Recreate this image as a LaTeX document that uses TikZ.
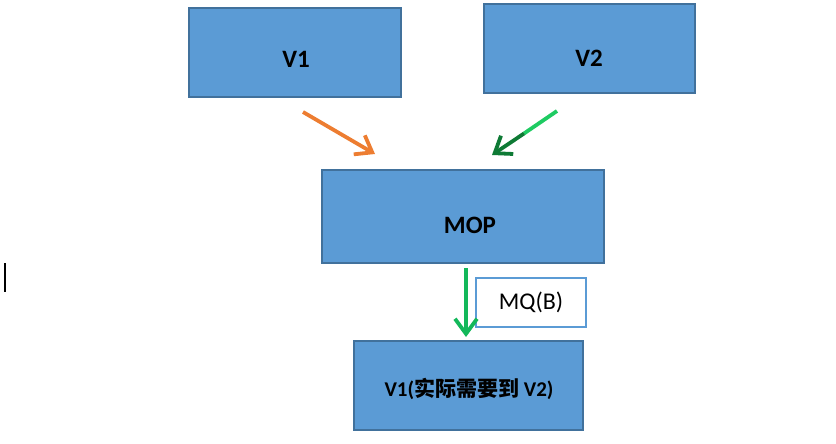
\documentclass[tikz,border=0pt]{standalone}
\usepackage{fontspec}
\setmainfont{Carlito}
\newfontfamily\cjk{Noto Sans CJK SC}
\usetikzlibrary{arrows.meta}
\definecolor{boxfill}{HTML}{5B9BD5}
\definecolor{boxline}{HTML}{41719C}
\definecolor{orangeA}{HTML}{ED7D31}
\definecolor{greenL}{HTML}{1ECB62}
\definecolor{greenD}{HTML}{0E7A35}
\definecolor{greenV}{HTML}{13B85A}
\tikzset{
  bluebox/.style={draw=boxline, line width=1.5pt, fill=boxfill, inner sep=0pt},
  boxtext/.style={inner sep=0pt, font=\bfseries\fontsize{25}{29}\selectfont},
  labelbox/.style={draw=boxfill, line width=1.5pt, fill=white, inner sep=0pt, font=\fontsize{24}{28}\selectfont},
  arr/.style={line width=3.8pt, -{Straight Barb[length=15pt,width=22pt,line width=3.8pt]}}
}
\begin{document}
\begin{tikzpicture}[x=1pt,y=-1pt]
\useasboundingbox (0,0) rectangle (836,444);
\node[bluebox, minimum width=212pt, minimum height=89pt] (v1) at (295,52.5) {};
\node[boxtext] (v1t) at (296,59) {V1};
\node[bluebox, minimum width=211pt, minimum height=89pt] (v2) at (589.5,48.5) {};
\node[boxtext] (v2t) at (589,58) {V2};
\node[bluebox, minimum width=282pt, minimum height=93pt] (mop) at (463,216.5) {};
\node[boxtext] (mopt) at (470,225) {MOP};
\node[bluebox, minimum width=229pt, minimum height=89pt] (dst) at (468.5,385.5) {};
\node[boxtext, font=\bfseries\fontsize{21}{25}\selectfont] (dstt) at (469,389) {V1({\cjk 实际需要到} V2)};
\node[labelbox, minimum width=110pt, minimum height=49pt] (mq) at (531,302.5) {MQ(B)};
\coordinate (o1) at (303,112);
\coordinate (o2) at (375,154);
\coordinate (g1) at (557,111);
\coordinate (gm) at (524,133.5);
\coordinate (g2) at (492,155);
\coordinate (m1) at (466,268);
\coordinate (m2) at (466,337);
\draw[arr, orangeA] (o1) -- (o2);
\draw[line width=3.8pt, greenL] (g1) -- (gm);
\draw[arr, greenD] (gm) -- (g2);
\draw[arr, greenV] (m1) -- (m2);
\draw[line width=2pt] (4.5,263) -- (4.5,292);
\end{tikzpicture}
\end{document}
